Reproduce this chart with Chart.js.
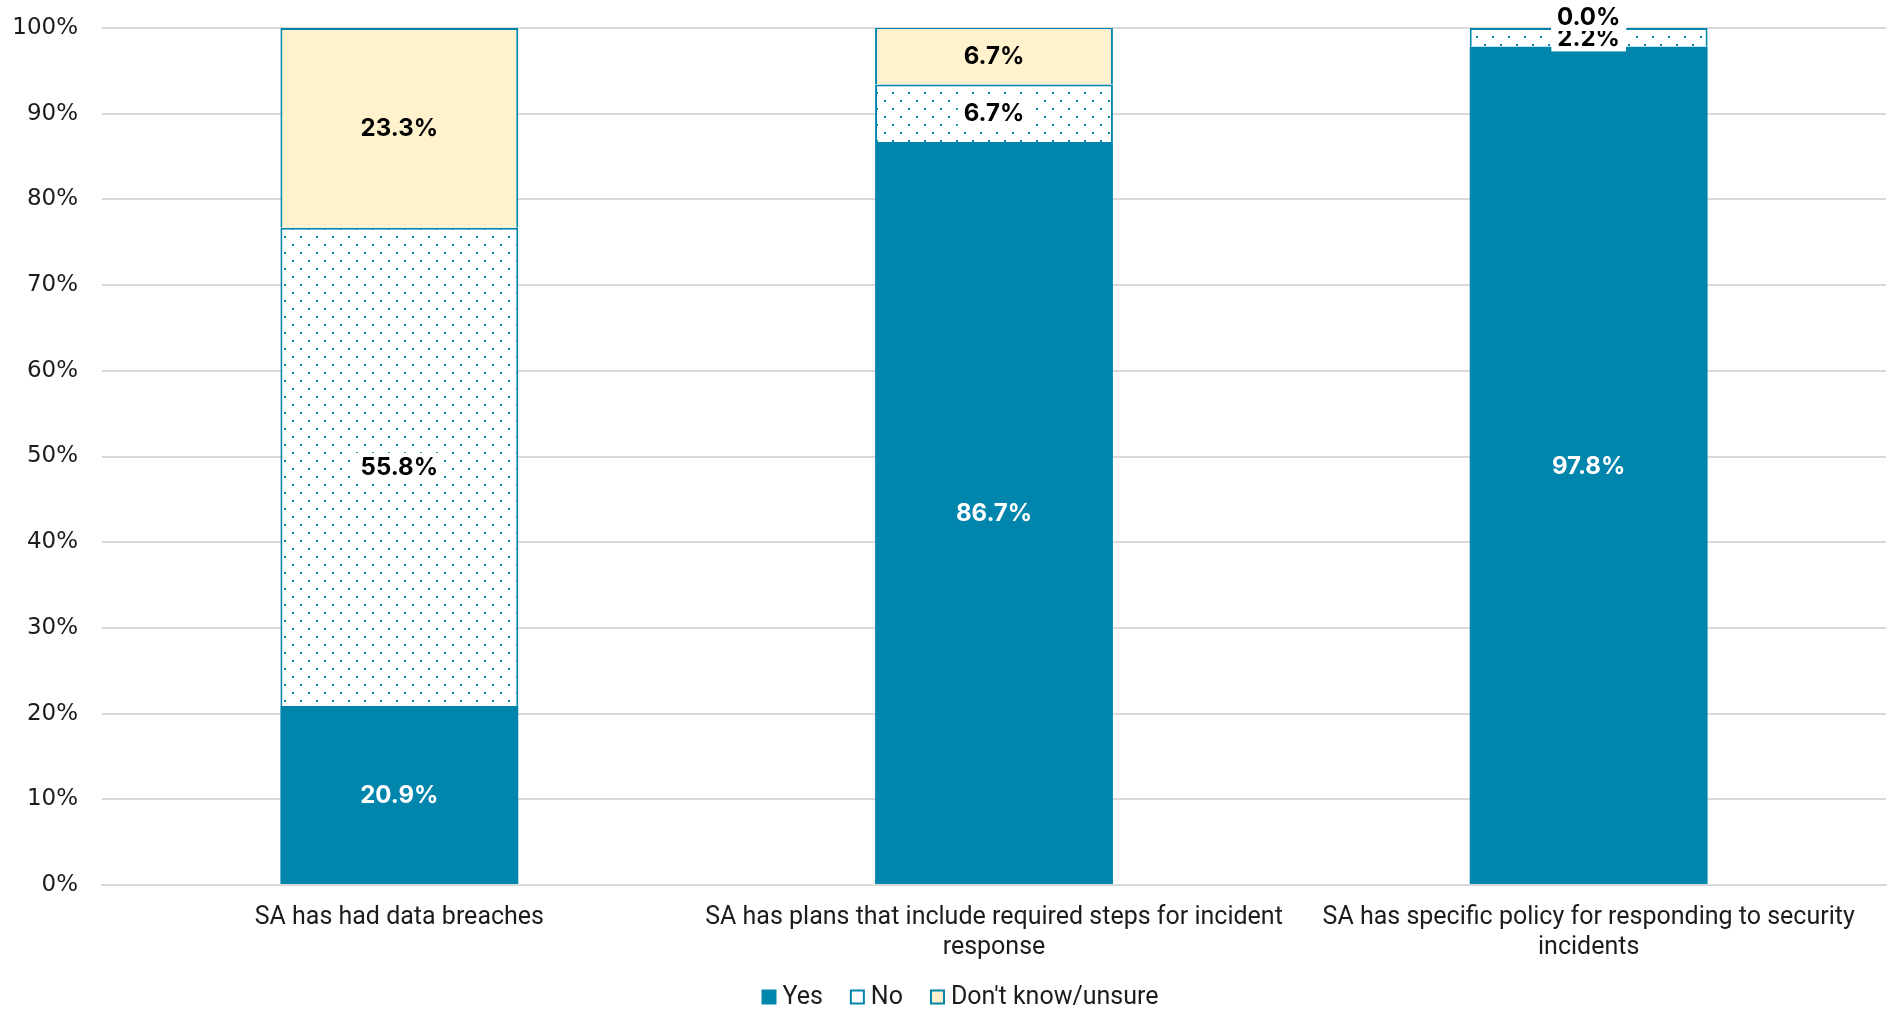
<!DOCTYPE html>
<html>
<head>
<meta charset="utf-8">
<script src="https://cdn.jsdelivr.net/npm/chart.js@4.4.1/dist/chart.umd.min.js"></script>
<style>
  html, body { margin: 0; padding: 0; background: #ffffff; }
  #wrap { width: 1892px; height: 1010px; }
</style>
</head>
<body>
<div id="wrap"><canvas id="chart" width="1892" height="1010"></canvas></div>
<script>
// Survey items (x-axis categories), split into display lines
const categories = [
  ["SA has had data breaches"],
  ["SA has plans that include required steps for incident", "response"],
  ["SA has specific policy for responding to security", "incidents"]
];
const seriesNames = ["Yes", "No", "Don't know/unsure"];
const yesValues = [20.9, 86.7, 97.8];
const noValues = [55.8, 6.7, 2.2];
const unsureValues = [23.3, 6.7, 0.0];
const yTicks = [0, 10, 20, 30, 40, 50, 60, 70, 80, 90, 100];

const TEAL = '#0085ad';
const CREAM = '#fff2cc';
const TEXT = '#1c1c1c';
const FONT = 'Roboto, "Liberation Sans", sans-serif';
const TICK_FONT = '"DejaVu Sans", sans-serif';
const LABEL_FONT = 'Inter, Roboto, sans-serif';

// Dotted fill for the "No" segments
function dotPattern() {
  const c = document.createElement('canvas');
  c.width = 16; c.height = 16;
  const g = c.getContext('2d');
  g.fillStyle = '#ffffff';
  g.fillRect(0, 0, 16, 16);
  g.fillStyle = TEAL;
  g.fillRect(4, 4, 2, 2);
  g.fillRect(12, 12, 2, 2);
  return g.createPattern(c, 'repeat');
}
const dots = dotPattern();

// Percentage labels centred in each stacked segment
const segmentLabels = {
  id: 'segmentLabels',
  afterDatasetsDraw(chart) {
    const ctx = chart.ctx;
    ctx.save();
    ctx.font = 'bold 24px ' + LABEL_FONT;
    ctx.textAlign = 'center';
    ctx.textBaseline = 'middle';
    chart.data.datasets.forEach((ds, di) => {
      const meta = chart.getDatasetMeta(di);
      meta.data.forEach((bar, i) => {
        const v = ds.data[i];
        const p = bar.getProps(['x', 'y', 'base'], true);
        let cy = (p.y + p.base) / 2;
        if (v === 0) cy = p.y - 11;
        const txt = v.toFixed(1) + '%';
        const boxed = di === 1 || v === 0;
        if (boxed) {
          const w = ctx.measureText(txt).width + 12;
          ctx.fillStyle = '#ffffff';
          ctx.fillRect(p.x - w / 2, cy - 14, w, 28);
        }
        ctx.fillStyle = di === 0 ? '#ffffff' : '#000000';
        ctx.fillText(txt, p.x, cy + 1);
      });
    });
    ctx.restore();
  }
};

// Compact legend row under the axis labels (swatch, tight gap, name)
const swatchLegend = {
  id: 'swatchLegend',
  afterDraw(chart) {
    const ctx = chart.ctx;
    const box = 15, gapText = 6, gapItem = 27;
    ctx.save();
    ctx.font = '25px ' + FONT;
    ctx.textBaseline = 'middle';
    ctx.textAlign = 'left';
    const items = chart.data.datasets.map((ds, i) => ({
      text: ds.label,
      fill: i === 1 ? '#ffffff' : ds.backgroundColor,
      stroke: i === 0 ? null : TEAL,
      w: ctx.measureText(ds.label).width
    }));
    const total = items.reduce((s, it) => s + box + gapText + it.w, 0) + gapItem * (items.length - 1);
    let x = chart.width / 2 + 14 - total / 2;
    const cy = chart.height - 13;
    items.forEach(it => {
      ctx.fillStyle = it.fill;
      ctx.fillRect(x, cy - box / 2, box, box);
      if (it.stroke) {
        ctx.strokeStyle = it.stroke;
        ctx.lineWidth = 2;
        ctx.strokeRect(x + 1, cy - box / 2 + 1, box - 2, box - 2);
      }
      x += box + gapText;
      ctx.fillStyle = TEXT;
      ctx.fillText(it.text, x, cy + 1);
      x += it.w + gapItem;
    });
    ctx.restore();
  }
};

new Chart(document.getElementById('chart'), {
  type: 'bar',
  data: {
    labels: categories,
    datasets: [
      { label: seriesNames[0], data: yesValues, backgroundColor: TEAL, borderColor: TEAL, borderWidth: 0 },
      { label: seriesNames[1], data: noValues, backgroundColor: dots, borderColor: TEAL, borderWidth: 2 },
      { label: seriesNames[2], data: unsureValues, backgroundColor: CREAM, borderColor: TEAL, borderWidth: 2 }
    ]
  },
  options: {
    responsive: false,
    animation: false,
    layout: { padding: { top: 28, right: 6, left: 0, bottom: 37 } },
    datasets: { bar: { categoryPercentage: 1.0, barPercentage: 0.4 } },
    plugins: {
      tooltip: { enabled: false },
      legend: { display: false }
    },
    scales: {
      x: {
        stacked: true,
        grid: { display: false },
        border: { color: '#d9d9d9', width: 2 },
        ticks: { font: { family: FONT, size: 25, lineHeight: 1.2 }, color: TEXT, padding: 10, maxRotation: 0 }
      },
      y: {
        stacked: true,
        min: 0,
        max: 100,
        afterBuildTicks(scale) { scale.ticks = yTicks.map(v => ({ value: v })); },
        afterFit(scale) { scale.width = 102; scale.paddingTop = 0; scale.paddingBottom = 0; },
        grid: { color: '#d9d9d9', lineWidth: 2, drawTicks: false },
        border: { display: false },
        ticks: { font: { family: TICK_FONT, size: 23 }, color: TEXT, padding: 24, callback: v => v + '%' }
      }
    }
  },
  plugins: [segmentLabels, swatchLegend]
});
</script>
</body>
</html>
